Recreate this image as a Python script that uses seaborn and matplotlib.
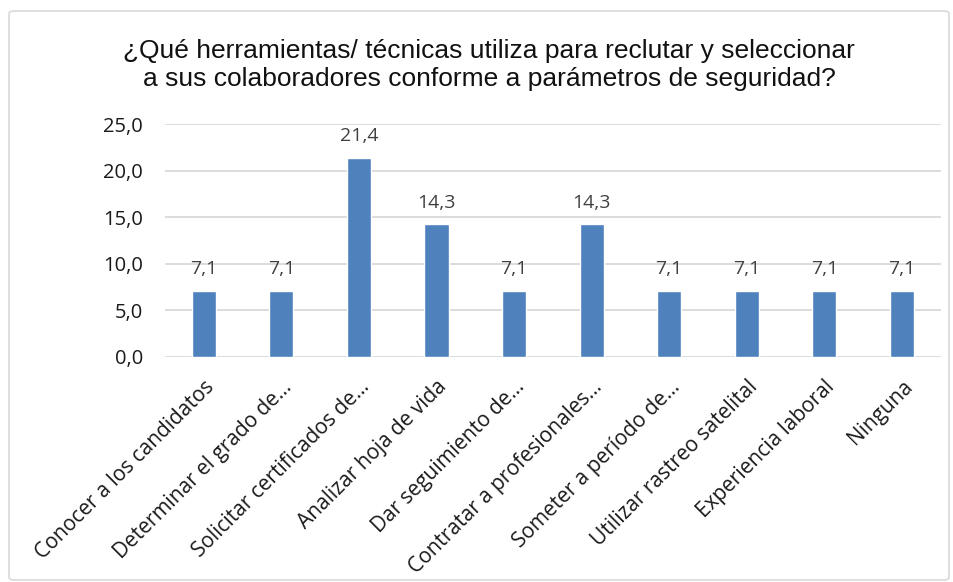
import matplotlib
matplotlib.use("Agg")
import matplotlib.pyplot as plt
import seaborn as sns
import pandas as pd
from matplotlib.patches import FancyBboxPatch

categories = ["Conocer a los candidatos", "Determinar el grado de…",
              "Solicitar certificados de…", "Analizar hoja de vida",
              "Dar seguimiento de…", "Contratar a profesionales…",
              "Someter a período de…", "Utilizar rastreo satelital",
              "Experiencia laboral", "Ninguna"]
values = [7.1, 7.1, 21.4, 14.3, 7.1, 14.3, 7.1, 7.1, 7.1, 7.1]
yticks = [0, 5, 10, 15, 20, 25]
title = "¿Qué herramientas/ técnicas utiliza para reclutar y seleccionar\na sus colaboradores conforme a parámetros de seguridad?"

df = pd.DataFrame({"cat": categories, "val": values})

sns.set_theme(style="white")
plt.rcParams['font.family'] = ['Open Sans', 'DejaVu Sans']

fig = plt.figure(figsize=(9.54, 5.82), dpi=100)
ax = fig.add_axes([0.173, 0.3866, 0.813, 0.3995])

sns.barplot(data=df, x="cat", y="val", color="#4F81BD", width=0.31,
            saturation=1, ax=ax, zorder=3)

ax.set_ylim(0, 25)
ax.set_yticks(yticks)
ax.set_yticklabels([f"{v:.1f}".replace(".", ",") for v in yticks],
                   fontsize=14.5, color="#1a1a1a")
ax.yaxis.grid(True, color="#D9D9D9", linewidth=1.3, zorder=0)
ax.set_axisbelow(True)
for s in ["top", "right", "left", "bottom"]:
    ax.spines[s].set_visible(False)
ax.tick_params(axis="y", length=0, pad=16)
ax.set_xlabel("")
ax.set_ylabel("")

ax.set_xticks(range(len(categories)))
ax.set_xticklabels(categories, rotation=45, ha="right", va="top",
                   rotation_mode="anchor", fontsize=15, color="#1a1a1a")
ax.tick_params(axis="x", length=0, pad=14)

for c in ax.containers:
    ax.bar_label(c, labels=[f"{v:.1f}".replace(".", ",") for v in values],
                 padding=9, fontsize=14, color="#404040")

fig.text(0.513, 0.888, title, ha="center", va="center", fontsize=19,
         family=["Liberation Sans", "DejaVu Sans"], linespacing=1.22,
         color="#111111")

border = FancyBboxPatch((9 / 954, 2 / 582), 940 / 954, 569 / 582,
                        boxstyle="round,pad=0,rounding_size=0.005",
                        transform=fig.transFigure, fill=False,
                        edgecolor="#D9D9D9", linewidth=1.2)
fig.patches.append(border)

fig.savefig("out.png", dpi=100)
